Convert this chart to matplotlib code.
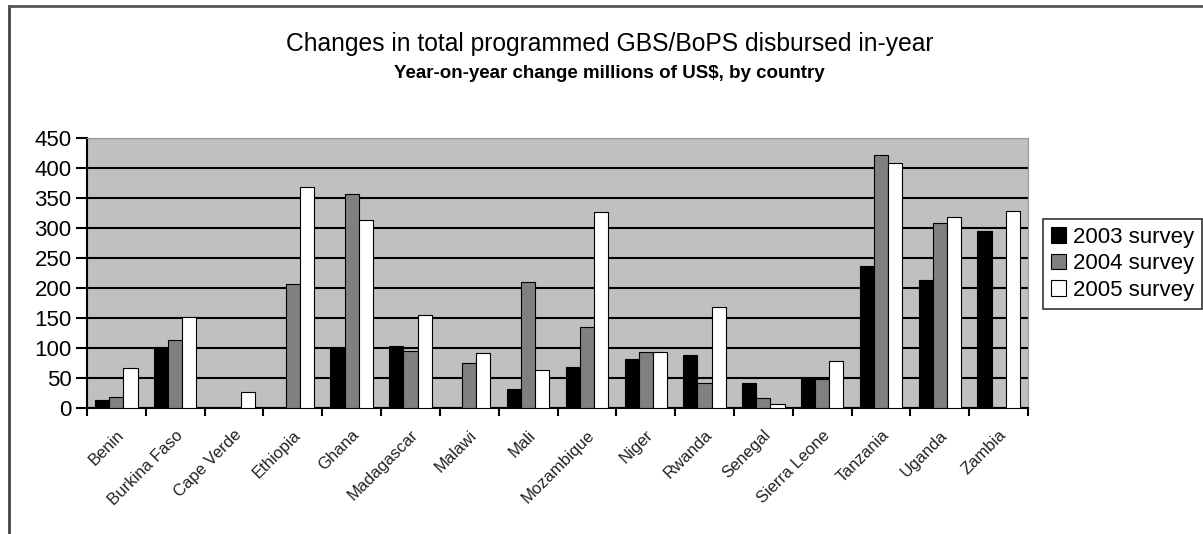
import numpy as np
import matplotlib.pyplot as plt
from matplotlib.lines import Line2D
from matplotlib.transforms import ScaledTranslation

countries = ["Benin", "Burkina Faso", "Cape Verde", "Ethiopia", "Ghana", "Madagascar",
             "Malawi", "Mali", "Mozambique", "Niger", "Rwanda", "Senegal",
             "Sierra Leone", "Tanzania", "Uganda", "Zambia"]
s2003 = [14, 100, 0, 0, 100, 104, 0, 31, 68, 82, 88, 42, 49, 237, 214, 295]
s2004 = [19, 114, 0, 207, 356, 95, 75, 210, 135, 93, 42, 17, 49, 421, 308, 0]
s2005 = [66, 151, 27, 368, 314, 155, 91, 64, 327, 93, 168, 7, 78, 408, 319, 329]
series = ["2003 survey", "2004 survey", "2005 survey"]
colors = ["#000000", "#808080", "#ffffff"]
yticks = np.arange(0, 451, 50)

plt.rcParams['font.family'] = ['Liberation Sans', 'DejaVu Sans']

fig = plt.figure(figsize=(12.03, 5.34), dpi=100)
ax = fig.add_axes([87/1203, 1-408/534, (1028-87)/1203, (408-138)/534])
ax.set_facecolor("#c0c0c0")

x = np.arange(len(countries))
w = 0.24
for i, (vals, col, lab) in enumerate(zip([s2003, s2004, s2005], colors, series)):
    bars = ax.bar(x + (i-1)*w, vals, width=w, color=col, edgecolor="black",
                  linewidth=0.8, label=lab, zorder=3)
    for b, v in zip(bars, vals):
        if v == 0:
            b.set_visible(False)

ax.set_xlim(-0.5, len(countries)-0.5)
ax.set_ylim(0, 450)
ax.set_yticks(yticks)
ax.yaxis.grid(True, color="black", linewidth=1.5, zorder=1)
ax.set_axisbelow(True)
ax.set_xticks(np.arange(len(countries)+1) - 0.5)
ax.set_xticklabels([])
ax.set_xticks(x, minor=True)
ax.set_xticklabels(countries, minor=True, rotation=45, ha="right",
                   rotation_mode="anchor", fontsize=12, color="#222222")
shift = ScaledTranslation(-11/100, 0, fig.dpi_scale_trans)
for lab in ax.get_xticklabels(minor=True):
    lab.set_transform(lab.get_transform() + shift)
ax.tick_params(axis="x", which="minor", length=0, pad=14)
ax.tick_params(axis="x", which="major", length=6, width=1.5, direction="out")
ax.tick_params(axis="y", length=8, width=1.5, direction="out", labelsize=16, pad=3)
for s in ["left", "bottom"]:
    ax.spines[s].set_linewidth(1.5)
for s in ["top", "right"]:
    ax.spines[s].set_color("#999999")

fig.text(610/1203, 1-44/534, "Changes in total programmed GBS/BoPS disbursed in-year",
         ha="center", va="center", fontsize=17.7)
fig.text(609/1203, 1-73/534, "Year-on-year change millions of US$, by country",
         ha="center", va="center", fontsize=13.5, fontweight="bold")

leg = ax.legend(loc="upper left", bbox_to_anchor=(1043/1203, 1-219/534),
                bbox_transform=fig.transFigure, fontsize=16, frameon=True,
                fancybox=False, handlelength=0.7, handleheight=0.7,
                handletextpad=0.3, borderpad=0.35, labelspacing=0.25,
                borderaxespad=0)
leg.get_frame().set_edgecolor("black")
leg.get_frame().set_linewidth(1.2)

fig.add_artist(Line2D([8.5/1203, 8.5/1203], [0, 1-6/534], transform=fig.transFigure,
                      color="#444444", linewidth=2))
fig.add_artist(Line2D([8.5/1203, 1], [1-6/534, 1-6/534], transform=fig.transFigure,
                      color="#555555", linewidth=2))

fig.savefig("out.png", dpi=100)
